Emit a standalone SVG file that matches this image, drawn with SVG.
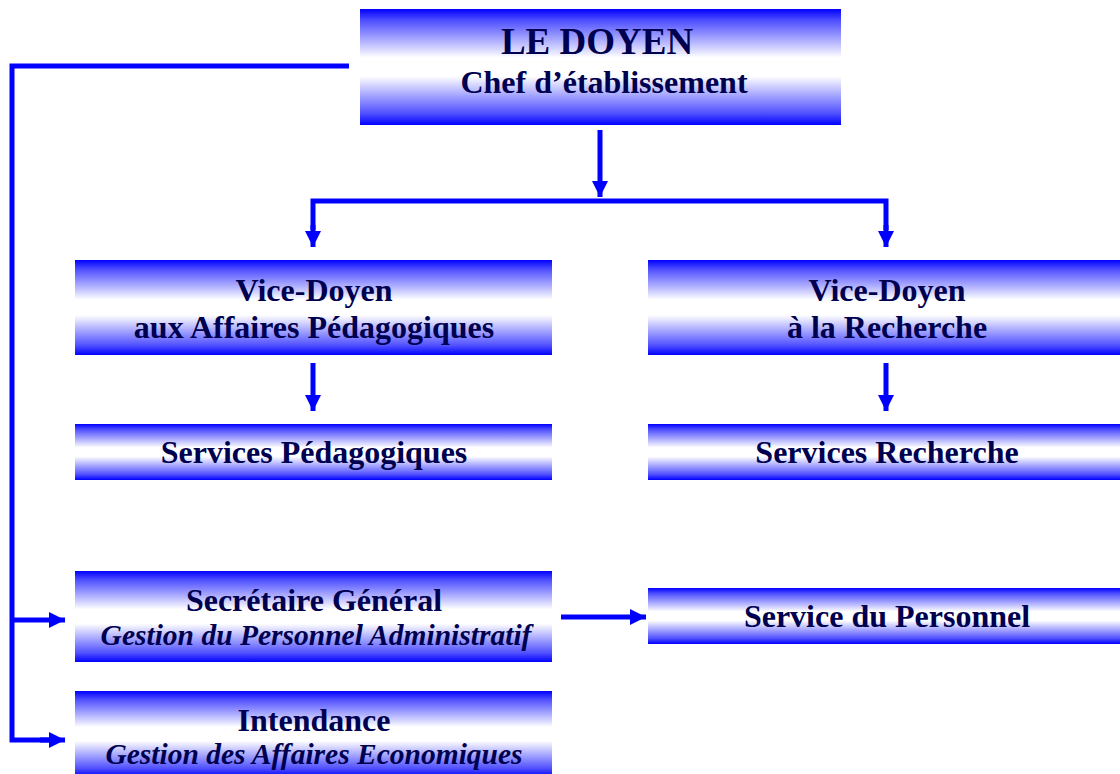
<svg xmlns="http://www.w3.org/2000/svg" width="1120" height="774" viewBox="0 0 1120 774">
  <defs>
    <!-- blue / white / blue vertical fill used by every box -->
    <linearGradient id="boxFill" x1="0" y1="0" x2="0" y2="1">
      <stop offset="0" stop-color="#0000ff"/>
      <stop offset="0.1" stop-color="#5050ff"/>
      <stop offset="0.42" stop-color="#ffffff"/>
      <stop offset="0.58" stop-color="#ffffff"/>
      <stop offset="0.9" stop-color="#5050ff"/>
      <stop offset="1" stop-color="#0000ff"/>
    </linearGradient>
    <marker id="head" markerUnits="userSpaceOnUse" markerWidth="16" markerHeight="16" viewBox="0 0 16 16" refX="16" refY="8" orient="auto">
      <path d="M0,0 L16,8 L0,16 Z" fill="#0000ff"/>
    </marker>
  </defs>
  <style>
    .box { fill: url(#boxFill); }
    .t { font-family: "Liberation Serif", "Times New Roman", serif; font-weight: bold; fill: #000050; text-anchor: middle; font-size: 32px; }
    .big { font-size: 37px; }
    .it { font-style: italic; font-size: 29.5px; }
    .wire { fill: none; stroke: #0000ff; stroke-width: 5; }
    .arrow { fill: none; stroke: #0000ff; stroke-width: 5; marker-end: url(#head); }
  </style>

  <rect width="1120" height="774" fill="#ffffff"/>

  <g id="connectors">
    <line class="arrow" x1="600" y1="130" x2="600" y2="197"/>
    <polyline class="wire" points="313,230 313,201 886,201 886,230"/>
    <line class="arrow" x1="313" y1="225" x2="313" y2="247"/>
    <line class="arrow" x1="886" y1="225" x2="886" y2="247"/>
    <line class="arrow" x1="313" y1="363" x2="313" y2="411"/>
    <line class="arrow" x1="886" y1="363" x2="886" y2="411"/>
    <polyline class="wire" points="349,66 12,66 12,740 50,740"/>
    <line class="arrow" x1="12" y1="620" x2="65" y2="620"/>
    <line class="arrow" x1="40" y1="740" x2="65" y2="740"/>
    <line class="arrow" x1="561" y1="617" x2="646" y2="617"/>
  </g>

  <g id="doyen">
    <rect class="box" x="360" y="9" width="481" height="116"/>
    <text class="t big" x="597" y="54">LE DOYEN</text>
    <text class="t" x="604" y="93">Chef d’établissement</text>
  </g>

  <g id="vd-pedagogie">
    <rect class="box" x="75" y="260" width="477" height="95"/>
    <text class="t" x="314" y="301">Vice-Doyen</text>
    <text class="t" x="314" y="338">aux Affaires Pédagogiques</text>
  </g>

  <g id="vd-recherche">
    <rect class="box" x="648" y="260" width="472" height="95"/>
    <text class="t" x="887" y="301">Vice-Doyen</text>
    <text class="t" x="887" y="338">à la Recherche</text>
  </g>

  <g id="services-pedagogiques">
    <rect class="box" x="75" y="424" width="477" height="56"/>
    <text class="t" x="314" y="463">Services Pédagogiques</text>
  </g>

  <g id="services-recherche">
    <rect class="box" x="648" y="424" width="472" height="56"/>
    <text class="t" x="887" y="463">Services Recherche</text>
  </g>

  <g id="secretaire-general">
    <rect class="box" x="75" y="571" width="477" height="91"/>
    <text class="t" x="314" y="611">Secrétaire Général</text>
    <text class="t it" x="316" y="645">Gestion du Personnel Administratif</text>
  </g>

  <g id="service-personnel">
    <rect class="box" x="648" y="588" width="472" height="56"/>
    <text class="t" x="887" y="627">Service du Personnel</text>
  </g>

  <g id="intendance">
    <rect class="box" x="75" y="691" width="477" height="86"/>
    <text class="t" x="314" y="731">Intendance</text>
    <text class="t it" x="314" y="764">Gestion des Affaires Economiques</text>
  </g>
</svg>
